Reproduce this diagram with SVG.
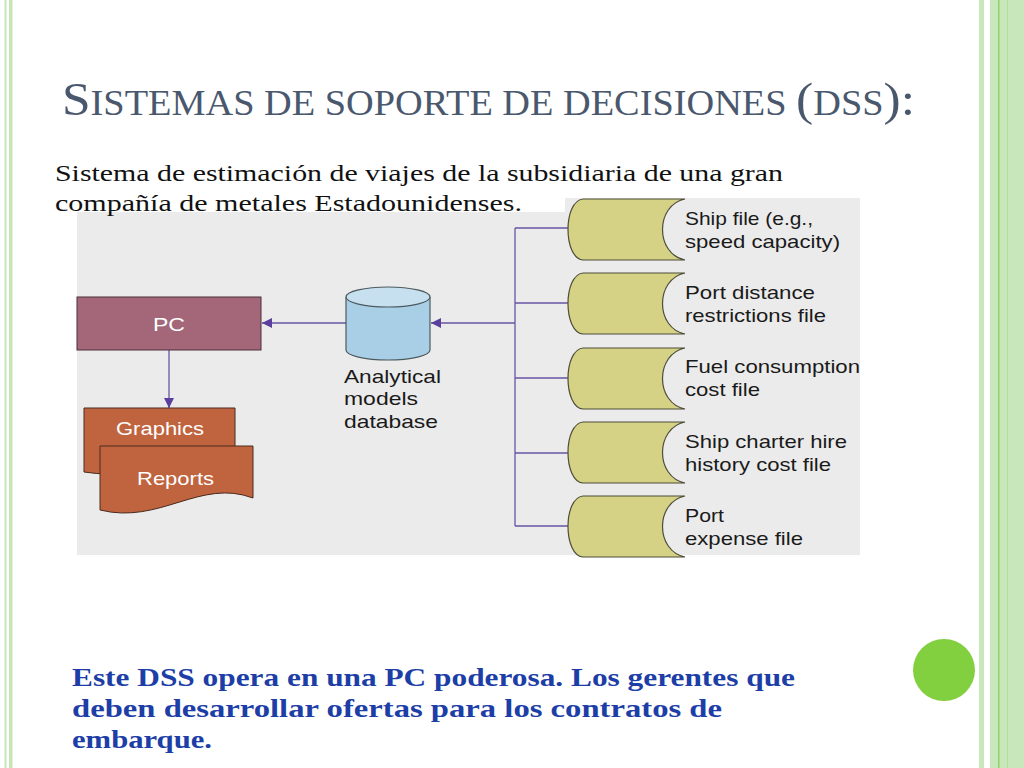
<svg xmlns="http://www.w3.org/2000/svg" width="1024" height="768" viewBox="0 0 1024 768">
<defs>
<style>
.title{font-family:"Liberation Serif",serif;fill:#4a586e}
.body{font-family:"Liberation Serif",serif;font-size:24px;fill:#111}
.blue{font-family:"Liberation Serif",serif;font-size:25px;font-weight:bold;fill:#1c3ea6}
.lbl{font-family:"Liberation Sans",Arial,sans-serif;font-size:19px;fill:#1a1a1a}
.wlbl{font-family:"Liberation Sans",Arial,sans-serif;font-size:19px;fill:#ffffff}
.file{fill:#d5d286;stroke:#4d4d3a;stroke-width:1.2}
.conn{stroke:#6756a3;stroke-width:1.3;fill:none}
</style>
<marker id="ah" viewBox="0 0 10 10" refX="10" refY="5" markerWidth="17" markerHeight="10" markerUnits="userSpaceOnUse" orient="auto">
<path d="M0,0 L10,5 L0,10 Z" fill="#5a3f9e"/>
</marker>
<path id="fileShape" class="file" d="M583,0 L685,0 C655,6 655,55 685,61 L583,61 C563,59 563,2 583,0 Z"/>
</defs>
<rect width="1024" height="768" fill="#ffffff"/>
<!-- borders -->
<rect x="4.5" y="0" width="2" height="768" fill="#c6e6b8"/>
<rect x="9" y="0" width="3.5" height="768" fill="#c6e6b8"/>
<rect x="979" y="0" width="5" height="768" fill="#c8e7bb"/>
<rect x="990" y="0" width="34" height="768" fill="#c8e7bb"/>
<rect x="998" y="0" width="1.5" height="768" fill="#8fd070"/>
<rect x="1007" y="0" width="1" height="768" fill="#b3df9e"/>
<circle cx="944" cy="670" r="31" fill="#82cf3f"/>
<!-- title -->
<text class="title" x="62" y="115" textLength="853" lengthAdjust="spacingAndGlyphs"><tspan font-size="47">S</tspan><tspan font-size="35">ISTEMAS DE SOPORTE DE DECISIONES </tspan><tspan font-size="47">(</tspan><tspan font-size="35">DSS</tspan><tspan font-size="47">):</tspan></text>
<!-- diagram background -->
<rect x="77" y="198" width="783" height="357" fill="#ebebeb"/>
<rect x="50" y="190" width="515" height="22" fill="#ffffff"/>
<text class="body" x="55" y="181" textLength="728" lengthAdjust="spacingAndGlyphs">Sistema de estimación de viajes de la subsidiaria de una gran</text>
<text class="body" x="55" y="211" textLength="467" lengthAdjust="spacingAndGlyphs">compañía  de metales Estadounidenses.</text>
<!-- connectors -->
<g id="connectors">
<line class="conn" x1="515" y1="228" x2="515" y2="526"/>
<line class="conn" x1="515" y1="228" x2="568" y2="228"/>
<line class="conn" x1="515" y1="303" x2="568" y2="303"/>
<line class="conn" x1="515" y1="378" x2="568" y2="378"/>
<line class="conn" x1="515" y1="453" x2="568" y2="453"/>
<line class="conn" x1="515" y1="526" x2="568" y2="526"/>
<line class="conn" x1="515" y1="323" x2="431" y2="323" marker-end="url(#ah)"/>
<line class="conn" x1="346" y1="323" x2="262" y2="323" marker-end="url(#ah)"/>
<line class="conn" x1="169" y1="350" x2="169" y2="408" marker-end="url(#ah)"/>
</g>
<!-- PC -->
<g id="pc">
<rect x="77" y="297" width="184" height="53" fill="#a4677a" stroke="#4a3038" stroke-width="1"/>
<text class="wlbl" x="153" y="331" textLength="32" lengthAdjust="spacingAndGlyphs">PC</text>
</g>
<!-- database -->
<g id="database">
<path d="M346,297 L346,350 A42,10 0 0 0 430,350 L430,297" fill="#a9cfe6" stroke="#4d5a60" stroke-width="1.2"/>
<ellipse cx="388" cy="297" rx="42" ry="10" fill="#c6e0ef" stroke="#4d5a60" stroke-width="1.2"/>
<text class="lbl" x="344" y="383" textLength="97" lengthAdjust="spacingAndGlyphs">Analytical</text>
<text class="lbl" x="344" y="405" textLength="74" lengthAdjust="spacingAndGlyphs">models</text>
<text class="lbl" x="344" y="428" textLength="94" lengthAdjust="spacingAndGlyphs">database</text>
</g>
<!-- documents -->
<g id="graphics">
<path d="M84,408 L235,408 L235,462 C200,455 150,482 84,472 Z" fill="#c0643f" stroke="#4a2a1e" stroke-width="1"/>
<text class="wlbl" x="116" y="435" textLength="88" lengthAdjust="spacingAndGlyphs">Graphics</text>
</g>
<g id="reports">
<path d="M100,446 L253,446 L253,498 C200,478 160,525 100,510 Z" fill="#c0643f" stroke="#4a2a1e" stroke-width="1"/>
<text class="wlbl" x="137" y="485" textLength="77" lengthAdjust="spacingAndGlyphs">Reports</text>
</g>
<!-- files -->
<g id="file1">
<use href="#fileShape" y="199"/>
<text class="lbl" x="685" y="225" textLength="128" lengthAdjust="spacingAndGlyphs">Ship file (e.g.,</text>
<text class="lbl" x="685" y="248" textLength="155" lengthAdjust="spacingAndGlyphs">speed capacity)</text>
</g>
<g id="file2">
<use href="#fileShape" y="273"/>
<text class="lbl" x="685" y="299" textLength="130" lengthAdjust="spacingAndGlyphs">Port distance</text>
<text class="lbl" x="685" y="322" textLength="141" lengthAdjust="spacingAndGlyphs">restrictions file</text>
</g>
<g id="file3">
<use href="#fileShape" y="348"/>
<text class="lbl" x="685" y="373" textLength="175" lengthAdjust="spacingAndGlyphs">Fuel consumption</text>
<text class="lbl" x="685" y="396" textLength="75" lengthAdjust="spacingAndGlyphs">cost file</text>
</g>
<g id="file4">
<use href="#fileShape" y="422"/>
<text class="lbl" x="685" y="448" textLength="162" lengthAdjust="spacingAndGlyphs">Ship charter hire</text>
<text class="lbl" x="685" y="471" textLength="146" lengthAdjust="spacingAndGlyphs">history cost file</text>
</g>
<g id="file5">
<use href="#fileShape" y="496"/>
<text class="lbl" x="685" y="522" textLength="39" lengthAdjust="spacingAndGlyphs">Port</text>
<text class="lbl" x="685" y="545" textLength="118" lengthAdjust="spacingAndGlyphs">expense file</text>
</g>
<!-- bottom text -->
<text class="blue" x="72" y="686" textLength="723" lengthAdjust="spacingAndGlyphs">Este DSS opera en una PC poderosa. Los gerentes  que</text>
<text class="blue" x="72" y="717" textLength="650" lengthAdjust="spacingAndGlyphs">deben desarrollar ofertas para los contratos de</text>
<text class="blue" x="72" y="748" textLength="140" lengthAdjust="spacingAndGlyphs">embarque.</text>
</svg>
